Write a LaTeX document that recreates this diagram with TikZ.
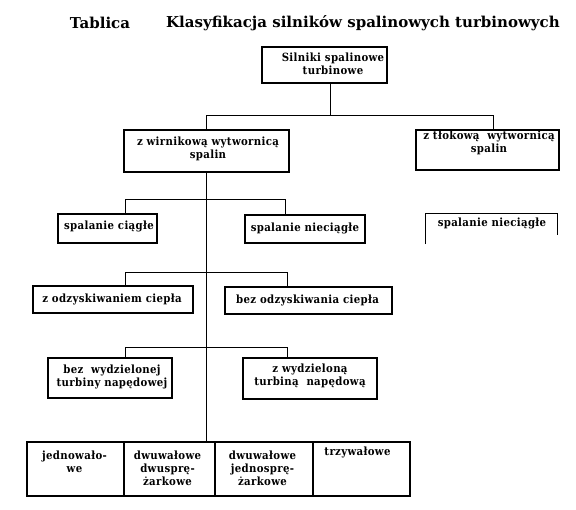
\documentclass[tikz,border=0pt]{standalone}
\usepackage{fontspec}
\setmainfont{DejaVu Serif}
\newfontfamily\bodyfont[LetterSpace=3]{DejaVu Serif Condensed}
\newfontfamily\titlefont{DejaVu Serif}
\begin{document}
\begin{tikzpicture}[x=1pt,y=-1pt,
  box/.style={draw, line width=1.1pt, inner sep=0pt},
  txt/.style={align=center, inner sep=0pt, font=\bodyfont\bfseries\fontsize{11.3}{13}\selectfont},
  ttl/.style={inner sep=0pt, font=\titlefont\bfseries\fontsize{15}{17}\selectfont},
  link/.style={line width=0.9pt}]
\useasboundingbox (0,0) rectangle (576,510);

% title
\node[ttl] (tt1) at (100,23) {Tablica};
\node[ttl, anchor=west] (tt2) at (166,23) {Klasyfikacja\ silników\ spalinowych\ turbinowych};

% boxes
\node[box, line width=2pt, minimum width=125pt, minimum height=36pt] (top) at (324.5,65) {};
\node[box, minimum width=165pt, minimum height=42pt] (wir) at (206.5,151) {};
\node[box, minimum width=143pt, minimum height=40pt] (tlok) at (487.5,150) {};
\node[box, minimum width=99pt, minimum height=29pt] (cig) at (107.5,228.5) {};
\node[box, minimum width=120pt, minimum height=28pt] (niec) at (305,229) {};
\node[inner sep=0pt, minimum width=131pt, minimum height=30pt] (niec2) at (491.5,229) {};
\draw[line width=1.1pt] (niec2.south west) -- (niec2.north west) -- (niec2.north east) -- ([yshift=9pt]niec2.south east);
\node[box, minimum width=160pt, minimum height=27pt] (odz) at (113,299.5) {};
\node[box, minimum width=167pt, minimum height=27pt] (bezodz) at (308.5,300.5) {};
\node[box, minimum width=124pt, minimum height=40pt] (bwyd) at (110,378) {};
\node[box, minimum width=134pt, minimum height=41pt] (zwyd) at (310,378.5) {};
\node[box, minimum width=97pt, minimum height=54pt] (c1) at (75.5,469) {};
\node[box, minimum width=91pt, minimum height=54pt] (c2) at (169.5,469) {};
\node[box, minimum width=98pt, minimum height=54pt] (c3) at (264,469) {};
\node[box, minimum width=97pt, minimum height=54pt] (c4) at (361.5,469) {};

% texts
\node[txt] (top-t) at (333,63.5) {Silniki spalinowe\\turbinowe};
\node[txt] (wir-t) at (208,149) {z wirnikową wytwornicą\\spalin};
\node[txt] (tlok-t) at (489,143) {z tłokową\ \ wytwornicą\\spalin};
\node[txt] (cig-t) at (109,226) {spalanie ciągłe};
\node[txt] (niec-t) at (305,228) {spalanie nieciągłe};
\node[txt] (niec2-t) at (492,223) {spalanie nieciągłe};
\node[txt] (odz-t) at (112,299) {z odzyskiwaniem ciepła};
\node[txt] (bezodz-t) at (307.5,300) {bez odzyskiwania ciepła};
\node[txt] (bwyd-t) at (112,377) {bez\ \ wydzielonej\\turbiny napędowej};
\node[txt] (zwyd-t) at (310,376) {z wydzieloną\\turbiną\ \ napędową};
\node[txt, anchor=north] (c1-t) at (74.5,451) {jednowało-\\we};
\node[txt, anchor=north] (c2-t) at (167.5,451) {dwuwałowe\\dwusprę-\\żarkowe};
\node[txt, anchor=north] (c3-t) at (262.5,451) {dwuwałowe\\jednosprę-\\żarkowe};
\node[txt, anchor=north] (c4-t) at (357.5,447) {trzywałowe};

% connectors
\coordinate (j0) at (330,115);
\coordinate (j0r) at (493,115);
\draw[link] (j0 |- top.south) -- (j0);
\draw[link] (wir.north) |- (j0r) -- (j0r |- tlok.north);
\draw[link] (wir.south) -- (wir.south |- c2.north);
\coordinate (a1) at (125,199);
\coordinate (a2) at (285,199);
\draw[link] (a1 |- cig.north) -- (a1) -- (a2) -- (a2 |- niec.north);
\coordinate (b1) at (125,272);
\coordinate (b2) at (287,272);
\draw[link] (b1 |- odz.north) -- (b1) -- (b2) -- (b2 |- bezodz.north);
\coordinate (d1) at (125,347);
\coordinate (d2) at (287,347);
\draw[link] (d1 |- bwyd.north) -- (d1) -- (d2) -- (d2 |- zwyd.north);
\end{tikzpicture}
\end{document}
